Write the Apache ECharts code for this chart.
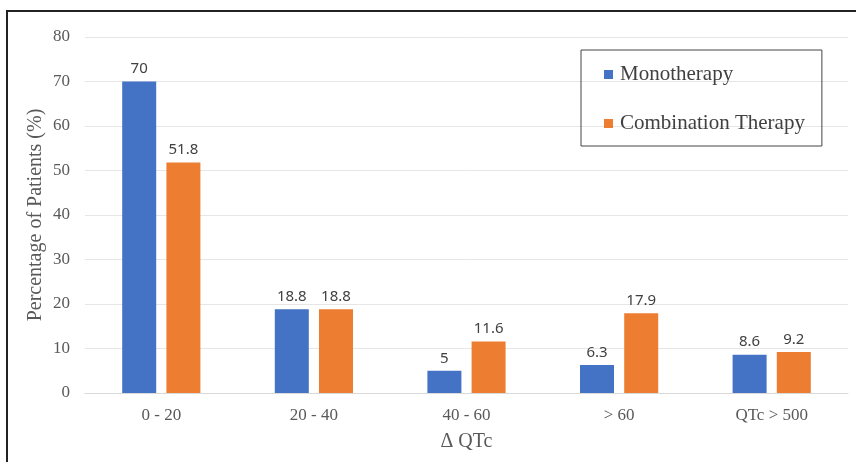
<!DOCTYPE html>
<html><head><meta charset="utf-8">
<script src="https://cdn.jsdelivr.net/npm/echarts@6/dist/echarts.min.js"></script>
<style>html,body{margin:0;padding:0;background:#fff}#c{width:856px;height:462px}</style>
</head><body><div id="c"></div>
<script>
const categories = ['0 - 20', '20 - 40', '40 - 60', '> 60', 'QTc > 500'];
const monotherapy = [70, 18.8, 5, 6.3, 8.6];
const combination = [51.8, 18.8, 11.6, 17.9, 9.2];
const yTicks = {min: 0, max: 80, interval: 10};

const serif = '"Liberation Serif", "DejaVu Serif", serif';
const chart = echarts.init(document.getElementById('c'));
const labelStyle = {show: true, position: 'top', distance: 5, fontFamily: '"Noto Sans", sans-serif', fontSize: 15, color: '#404040'};
chart.setOption({
  animation: false,
  graphic: [{type: 'rect', shape: {x: 7, y: 11, width: 900, height: 500}, style: {fill: 'none', stroke: '#222', lineWidth: 2}, z: 100}],
  grid: {left: 85, right: 8, top: 37, bottom: 69},
  legend: {
    orient: 'vertical', left: 581, top: 50,
    padding: [14, 17, 12, 23], itemGap: 28, itemWidth: 9, itemHeight: 9,
    borderColor: '#444', borderWidth: 1,
    icon: 'rect',
    textStyle: {fontFamily: serif, fontSize: 21, color: '#404040', padding: [0, 0, 0, 2]},
    data: ['Monotherapy', 'Combination Therapy']
  },
  xAxis: {
    type: 'category', data: categories,
    name: 'Δ QTc', nameLocation: 'middle', nameGap: 39,
    nameTextStyle: {fontFamily: serif, fontSize: 20, color: '#595959'},
    axisLine: {lineStyle: {color: '#d9d9d9'}}, axisTick: {show: false},
    axisLabel: {fontFamily: serif, fontSize: 17, color: '#595959', margin: 14}
  },
  yAxis: {
    type: 'value', min: yTicks.min, max: yTicks.max, interval: yTicks.interval,
    name: 'Percentage of Patients (%)', nameLocation: 'middle', nameGap: 39,
    nameMoveOverlap: false,
    nameTextStyle: {fontFamily: serif, fontSize: 20, color: '#595959'},
    axisLine: {show: false}, axisTick: {show: false},
    splitLine: {lineStyle: {color: '#e6e6e6'}},
    axisLabel: {fontFamily: serif, fontSize: 17, color: '#595959', margin: 15}
  },
  series: [
    {name: 'Monotherapy', type: 'bar', data: monotherapy, barWidth: 34, barGap: '30%', itemStyle: {color: '#4472C4'}, label: labelStyle},
    {name: 'Combination Therapy', type: 'bar', data: combination, barWidth: 34, itemStyle: {color: '#ED7D31'}, label: labelStyle}
  ]
});
</script></body></html>
